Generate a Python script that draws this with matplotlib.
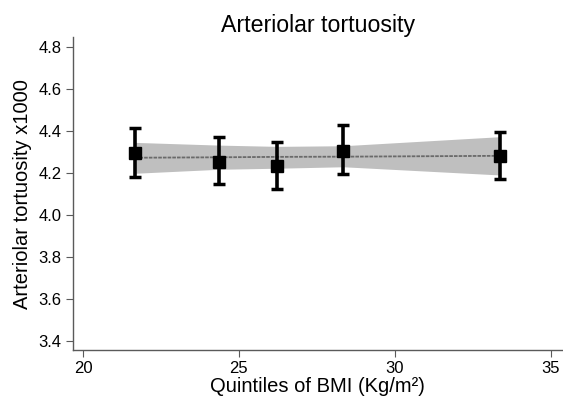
import matplotlib
matplotlib.use("Agg")
import matplotlib.pyplot as plt

plt.rcParams['font.family'] = ['Liberation Sans', 'DejaVu Sans']

bmi = [21.66, 24.36, 26.22, 28.34, 33.36]
tort = [4.296, 4.253, 4.234, 4.305, 4.280]
err_hi = [4.412, 4.369, 4.348, 4.426, 4.396]
err_lo = [4.182, 4.145, 4.124, 4.196, 4.171]
fit = [4.272, 4.274, 4.276, 4.277, 4.281]
band_hi = [4.345, 4.332, 4.326, 4.329, 4.372]
band_lo = [4.198, 4.217, 4.222, 4.229, 4.190]
xticks = [20, 25, 30, 35]
yticks = [3.4, 3.6, 3.8, 4.0, 4.2, 4.4, 4.6, 4.8]

fig = plt.figure(figsize=(5.63, 3.99), dpi=100)
ax = fig.add_axes([0.1291, 0.1228, 0.8709, 0.7837])

ax.fill_between(bmi, band_lo, band_hi, color='#bfbfbf', lw=0, zorder=1)
ax.plot(bmi, fit, color='#6a6a6a', lw=1.3, ls=(0, (2, 0.6)), zorder=2)
yerr = [[t - l for t, l in zip(tort, err_lo)], [h - t for t, h in zip(tort, err_hi)]]
_, caps, bars = ax.errorbar(bmi, tort, yerr=yerr, fmt='s', color='black', ms=8.6,
                            elinewidth=2.6, capsize=4, capthick=2.5, zorder=3)
for c in caps:
    c.set_solid_capstyle('round')

ax.set_xlim(19.67, 35.39)
ax.set_ylim(3.357, 4.845)
ax.set_xticks(xticks)
ax.set_yticks(yticks)
ax.set_yticklabels([f"{v:.1f}" for v in yticks])
for s in ['top', 'right']:
    ax.spines[s].set_visible(False)
for s in ['left', 'bottom']:
    ax.spines[s].set_color('#5a5a5a')
    ax.spines[s].set_linewidth(1.0)
ax.tick_params(direction='out', length=5, color='#5a5a5a', labelsize=12, pad=3)
ax.set_title("Arteriolar tortuosity", fontsize=16.7, pad=1)
ax.set_xlabel("Quintiles of BMI (Kg/m²)", fontsize=14.5, labelpad=0.5)
ax.set_ylabel("Arteriolar tortuosity x1000", fontsize=14.5, labelpad=5)

fig.savefig("out.png", dpi=100)
